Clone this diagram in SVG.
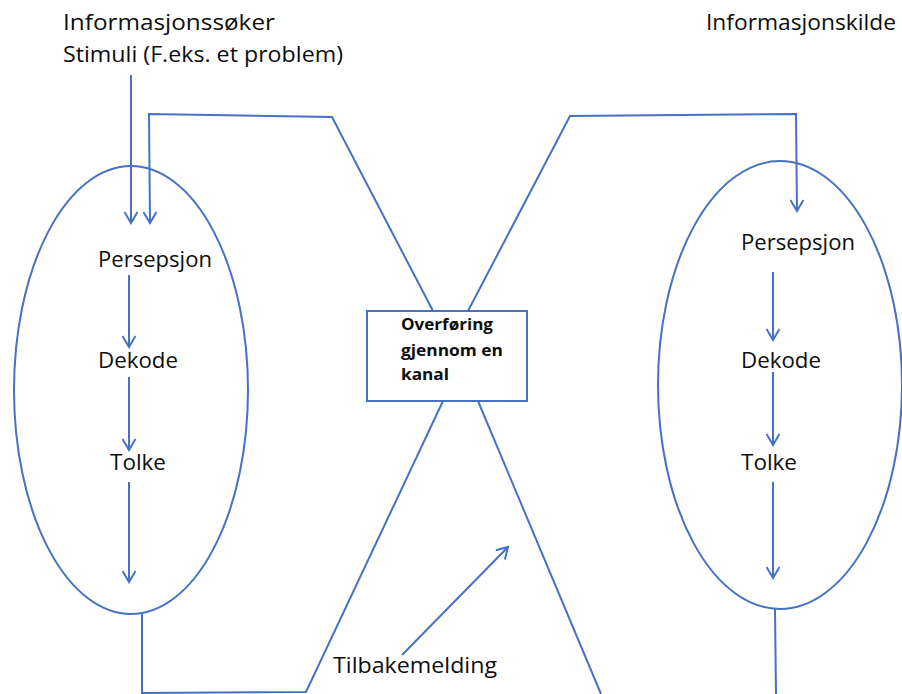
<svg xmlns="http://www.w3.org/2000/svg" width="902" height="694" viewBox="0 0 902 694">
  <defs>
    <marker id="open-arrow" viewBox="0 0 14 14" refX="12" refY="7" markerWidth="14" markerHeight="14" markerUnits="userSpaceOnUse" orient="auto">
      <path d="M1,0.5 L12,7 L1,13.5" fill="none" stroke="#4472C4" stroke-width="2"/>
    </marker>
  </defs>
  <style>
    .ln { fill: none; stroke: #4472C4; stroke-width: 2; stroke-linejoin: miter; }
    .arr { fill: none; stroke: #4472C4; stroke-width: 2; marker-end: url(#open-arrow); }
    .lbl { font-family: "Open Sans", "Noto Sans", "DejaVu Sans", sans-serif; font-size: 22px; fill: #0d0d0d; }
    .box-lbl { font-family: "Open Sans", "Noto Sans", "DejaVu Sans", sans-serif; font-size: 16px; font-weight: bold; fill: #0d0d0d; }
  </style>
  <rect width="902" height="694" fill="#ffffff"/>

  <!-- headings -->
  <g id="seeker-heading">
    <text class="lbl" x="63" y="30" textLength="212" lengthAdjust="spacingAndGlyphs">Informasjonssøker</text>
    <text class="lbl" x="63" y="62" textLength="280" lengthAdjust="spacingAndGlyphs">Stimuli (F.eks. et problem)</text>
  </g>
  <g id="source-heading">
    <text class="lbl" x="706" y="30" textLength="190" lengthAdjust="spacingAndGlyphs">Informasjonskilde</text>
  </g>

  <!-- seeker process -->
  <g id="seeker">
    <ellipse class="ln" cx="131" cy="390" rx="117" ry="224"/>
    <text class="lbl" x="98" y="267" textLength="114" lengthAdjust="spacingAndGlyphs">Persepsjon</text>
    <text class="lbl" x="98" y="368" textLength="80" lengthAdjust="spacingAndGlyphs">Dekode</text>
    <text class="lbl" x="110" y="470" textLength="56" lengthAdjust="spacingAndGlyphs">Tolke</text>
  </g>

  <!-- source process -->
  <g id="source">
    <ellipse class="ln" cx="780" cy="385" rx="122" ry="224"/>
    <text class="lbl" x="741" y="250" textLength="114" lengthAdjust="spacingAndGlyphs">Persepsjon</text>
    <text class="lbl" x="741" y="368" textLength="80" lengthAdjust="spacingAndGlyphs">Dekode</text>
    <text class="lbl" x="741" y="470" textLength="56" lengthAdjust="spacingAndGlyphs">Tolke</text>
  </g>

  <!-- channel -->
  <g id="channel">
    <rect class="ln" x="367" y="311" width="160" height="90"/>
    <text class="box-lbl" x="401" y="330" textLength="92" lengthAdjust="spacingAndGlyphs">Overføring</text>
    <text class="box-lbl" x="401" y="356" textLength="102" lengthAdjust="spacingAndGlyphs">gjennom en</text>
    <text class="box-lbl" x="401" y="380" textLength="48" lengthAdjust="spacingAndGlyphs">kanal</text>
  </g>

  <g id="feedback-label">
    <text class="lbl" x="333" y="673" textLength="164" lengthAdjust="spacingAndGlyphs">Tilbakemelding</text>
  </g>

  <!-- connectors -->
  <g id="connectors">
    <!-- stimulus into seeker -->
    <line class="arr" x1="131" y1="75" x2="131" y2="223"/>
    <!-- channel back to seeker -->
    <polyline class="arr" points="433,311 332,117 149,114 150,223"/>
    <!-- channel to source -->
    <polyline class="arr" points="468,311 570,116 796,114 797,211"/>

    <!-- seeker internal steps -->
    <line class="arr" x1="129" y1="275" x2="129" y2="347"/>
    <line class="arr" x1="129" y1="377" x2="129" y2="450"/>
    <line class="arr" x1="129" y1="482" x2="129" y2="582"/>

    <!-- source internal steps -->
    <line class="arr" x1="773" y1="272" x2="773" y2="340"/>
    <line class="arr" x1="773" y1="372" x2="773" y2="445"/>
    <line class="arr" x1="773" y1="482" x2="773" y2="578"/>

    <!-- seeker output into channel -->
    <polyline class="ln" points="142,614 142,693 306,692 443,401"/>
    <!-- channel down-right out of frame -->
    <line class="ln" x1="478" y1="401" x2="601" y2="694"/>
    <!-- source output -->
    <line class="ln" x1="775" y1="609" x2="776" y2="694"/>

    <!-- feedback arrow -->
    <line class="arr" x1="402" y1="655" x2="508" y2="547"/>
  </g>
</svg>
